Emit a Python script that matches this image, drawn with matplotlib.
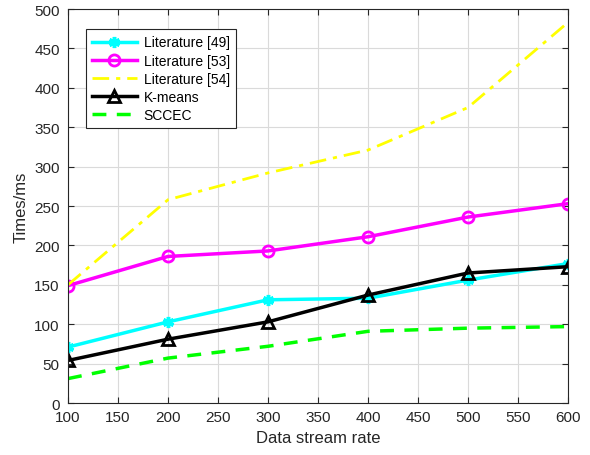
import matplotlib
matplotlib.use('Agg')
import matplotlib.pyplot as plt

plt.rcParams['font.family'] = ['Liberation Sans', 'DejaVu Sans']

# data stream rate vs processing time (ms)
rates = [100, 200, 300, 400, 500, 600]
lit49 = [71, 103, 131, 133, 156, 177]
lit53 = [149, 186, 193, 211, 236, 253]
lit54 = [150, 258, 292, 321, 375, 483]
kmeans = [54, 81, 103, 137, 165, 173]
sccec = [31, 57, 72, 91, 95, 97]

fig = plt.figure(figsize=(5.9, 4.56), dpi=100)
ax = fig.add_axes([0.1153, 0.114, 0.8474, 0.864])

ax.plot(rates, lit49, color='#00FFFF', lw=2.5, marker=(6, 2, 0), ms=8, mew=2.5,
        label='Literature [49]')
ax.plot(rates, lit53, color='#FF00FF', lw=2.5, marker='o', ms=8, mew=2,
        mfc='none', label='Literature [53]')
ax.plot(rates, lit54, color='#FFFF00', lw=2, ls=(0, (6, 2.5, 1.5, 2.5)),
        label='Literature [54]')
ax.plot(rates, kmeans, color='black', lw=2.5, marker='^', ms=9, mew=2,
        mfc='none', label='K-means')
ax.plot(rates, sccec, color='#00FF00', lw=2.5, ls=(0, (4, 3)),
        label='SCCEC')

ax.set_xlim(100, 600)
ax.set_ylim(0, 500)
ax.set_xticks(range(100, 601, 50))
ax.set_yticks(range(0, 501, 50))
ax.grid(True, color='#DADADA', lw=0.8)
ax.set_axisbelow(True)
ax.tick_params(direction='in', top=True, right=True, labelsize=11,
               length=4, width=0.8, colors='#262626')
ax.tick_params(axis='y', pad=6)
ax.tick_params(axis='x', pad=5)
for s in ax.spines.values():
    s.set_color('#262626')
    s.set_linewidth(0.8)

ax.set_xlabel('Data stream rate', fontsize=12, color='#262626')
ax.set_ylabel('Times/ms', fontsize=12, color='#262626')

leg = ax.legend(loc='upper left', bbox_to_anchor=(0.036, 0.949), fontsize=10,
                fancybox=False, framealpha=1, edgecolor='#262626',
                handlelength=3.2, borderpad=0.45, labelspacing=0.3,
                handletextpad=0.5, borderaxespad=0)
leg.get_frame().set_linewidth(0.8)

fig.savefig('out.png', dpi=100)
